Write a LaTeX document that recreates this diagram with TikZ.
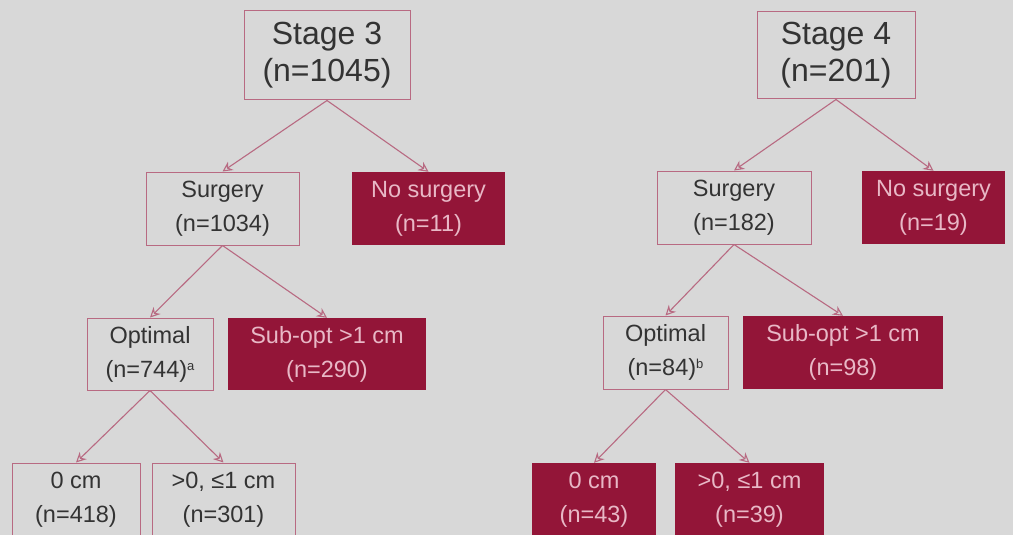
\documentclass[tikz,border=0pt]{standalone}
\usepackage{fontspec}
\setmainfont{Liberation Sans}
\usetikzlibrary{arrows.meta}
\definecolor{bg}{HTML}{D8D8D8}
\definecolor{dred}{HTML}{931538}
\definecolor{ptext}{HTML}{E8B8C6}
\definecolor{edge}{HTML}{B86A82}
\definecolor{dtext}{HTML}{333333}
\newcommand{\smallsup}[1]{\raisebox{7pt}{\fontsize{13}{13}\selectfont #1}}
\tikzset{
  big/.style={draw=edge, line width=1pt, text=dtext, align=center, inner sep=0pt,
    font=\fontsize{32}{37}\selectfont},
  wbox/.style={draw=edge, line width=1pt, text=dtext, align=center, inner sep=0pt,
    font=\fontsize{23.5}{34}\selectfont},
  rbox/.style={fill=dred, text=ptext, align=center, inner sep=0pt,
    font=\fontsize{23.5}{34}\selectfont},
  conn/.style={draw=edge, line width=1.1pt, -{Stealth[length=10pt,width=10pt,open]}},
}
\begin{document}
\begin{tikzpicture}[x=1pt,y=1pt]
\fill[bg] (0,0) rectangle (1013,-535);
\useasboundingbox (0,0) rectangle (1013,-535);
% Stage 3 tree
\node[big, minimum width=166pt, minimum height=89pt] (s3) at (327,-55.5) {Stage 3\\(n=1045)};
\node[wbox, minimum width=153pt, minimum height=73pt] (surg3) at (222.5,-208.5) {Surgery\\(n=1034)};
\node[rbox, minimum width=153pt, minimum height=73pt] (nos3) at (428.5,-208.5) {No surgery\\(n=11)};
\node[wbox, minimum width=126pt, minimum height=72pt] (opt3) at (150,-354) {Optimal\\(n=744)\smallsup{a}};
\node[rbox, minimum width=198pt, minimum height=72pt] (sub3) at (327,-354) {Sub-opt >1 cm\\(n=290)};
\node[wbox, minimum width=128pt, minimum height=74pt] (z3) at (76,-500) {0 cm\\(n=418)};
\node[wbox, minimum width=143pt, minimum height=74pt] (p3) at (223.5,-500) {>0, ≤1 cm\\(n=301)};
% Stage 4 tree
\node[big, minimum width=158pt, minimum height=87pt] (s4) at (836,-55.5) {Stage 4\\(n=201)};
\node[wbox, minimum width=154pt, minimum height=73pt] (surg4) at (734,-207.5) {Surgery\\(n=182)};
\node[rbox, minimum width=143pt, minimum height=73pt] (nos4) at (933.5,-207.5) {No surgery\\(n=19)};
\node[wbox, minimum width=125pt, minimum height=73pt] (opt4) at (665.5,-352.5) {Optimal\\(n=84)\smallsup{b}};
\node[rbox, minimum width=200pt, minimum height=73pt] (sub4) at (843,-352.5) {Sub-opt >1 cm\\(n=98)};
\node[rbox, minimum width=124pt, minimum height=74pt] (z4) at (594,-500) {0 cm\\(n=43)};
\node[rbox, minimum width=149pt, minimum height=74pt] (p4) at (749.5,-500) {>0, ≤1 cm\\(n=39)};
% connectors
\draw[conn] (s3.south) -- (surg3.north);
\draw[conn] (s3.south) -- (nos3.north);
\draw[conn] (surg3.south) -- (opt3.north);
\draw[conn] (surg3.south) -- (sub3.north);
\draw[conn] (opt3.south) -- (z3.north);
\draw[conn] (opt3.south) -- (p3.north);
\draw[conn] (s4.south) -- (surg4.north);
\draw[conn] (s4.south) -- (nos4.north);
\draw[conn] (surg4.south) -- (opt4.north);
\draw[conn] (surg4.south) -- (sub4.north);
\draw[conn] (opt4.south) -- (z4.north);
\draw[conn] (opt4.south) -- (p4.north);
\end{tikzpicture}
\end{document}
